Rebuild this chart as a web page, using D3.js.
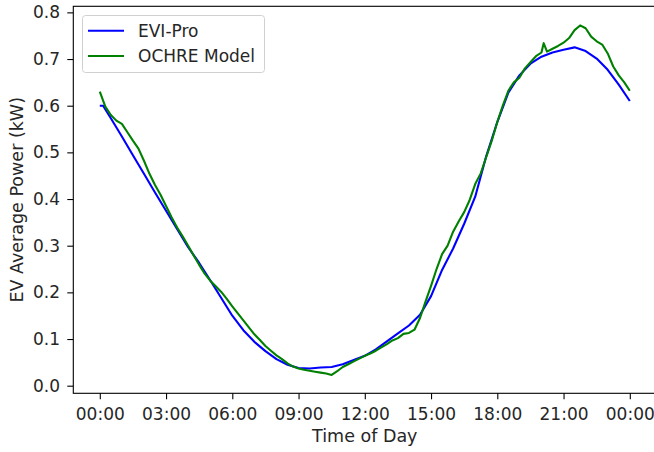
<!DOCTYPE html>
<html lang="en">
<head>
<meta charset="utf-8">
<title>EV Average Power</title>
<script src="https://d3js.org/d3.v7.min.js"></script>
<style>
  body { margin: 0; background: #fff; }
  svg text { font-family: "DejaVu Sans", sans-serif; fill: #262626; }
</style>
</head>
<body>
<div id="chart"></div>
<script>
// hours of day and average power (kW)
var eviHours = [0, 0.15, 0.5, 1, 1.5, 2, 2.5, 3, 3.5, 4, 4.5, 5, 5.5, 6, 6.5, 7, 7.5, 8, 8.5, 9, 9.5,
  10, 10.5, 11, 11.5, 12, 12.5, 13, 13.5, 14, 14.5, 15, 15.5, 16, 16.5, 17, 17.5, 18, 18.5, 19, 19.5,
  20, 20.5, 21, 21.5, 22, 22.5, 23, 23.5, 24];
var eviPower = [0.600, 0.600, 0.573, 0.534, 0.494, 0.454, 0.414, 0.375, 0.336, 0.297, 0.263, 0.226, 0.188,
  0.150, 0.119, 0.094, 0.074, 0.057, 0.045, 0.038, 0.037, 0.039, 0.040, 0.046, 0.055, 0.064, 0.078,
  0.095, 0.112, 0.129, 0.152, 0.192, 0.248, 0.294, 0.347, 0.405, 0.492, 0.565, 0.628, 0.665, 0.690,
  0.705, 0.714, 0.720, 0.725, 0.717, 0.701, 0.677, 0.645, 0.610];

var ochreHours = [0, 0.25, 0.5, 0.75, 1, 1.25, 1.5, 1.75, 2, 2.25, 2.5, 2.75, 3, 3.25, 3.5, 3.75,
  4, 4.25, 4.5, 4.75, 5, 5.25, 5.5, 5.75, 6, 6.25, 6.5, 6.75, 7, 7.25, 7.5, 7.75,
  8, 8.25, 8.5, 8.75, 9, 9.25, 9.5, 9.75, 10, 10.25, 10.5, 10.75, 11, 11.25, 11.5, 11.75,
  12, 12.25, 12.5, 12.75, 13, 13.25, 13.5, 13.75, 14, 14.25, 14.5, 14.75, 15, 15.25, 15.5, 15.75,
  16, 16.25, 16.5, 16.75, 17, 17.25, 17.5, 17.75, 18, 18.25, 18.5, 18.75, 19, 19.25, 19.5, 19.75,
  20, 20.1, 20.25, 20.5, 20.75, 21, 21.25, 21.5, 21.75, 22, 22.25, 22.5, 22.75, 23, 23.25, 23.5, 23.75, 24];
var ochrePower = [0.630, 0.598, 0.580, 0.568, 0.561, 0.543, 0.525, 0.508, 0.482, 0.454, 0.430, 0.409,
  0.385, 0.361, 0.339, 0.320, 0.300, 0.279, 0.259, 0.240, 0.225, 0.213, 0.201, 0.186,
  0.170, 0.155, 0.140, 0.125, 0.110, 0.098, 0.085, 0.075, 0.065, 0.057, 0.048, 0.041,
  0.037, 0.034, 0.032, 0.030, 0.028, 0.026, 0.023, 0.031, 0.040, 0.046, 0.052, 0.058,
  0.064, 0.069, 0.075, 0.082, 0.089, 0.097, 0.102, 0.111, 0.113, 0.120, 0.145, 0.180,
  0.214, 0.250, 0.282, 0.300, 0.330, 0.352, 0.372, 0.398, 0.432, 0.455, 0.490, 0.525,
  0.565, 0.600, 0.632, 0.650, 0.660, 0.680, 0.693, 0.706, 0.714, 0.734, 0.716, 0.722,
  0.728, 0.735, 0.745, 0.762, 0.772, 0.766, 0.748, 0.738, 0.731, 0.712, 0.684, 0.665, 0.650, 0.632];

var seriesNames = ["EVI-Pro", "OCHRE Model"];
var seriesColors = ["#0000ff", "#008000"];

var xTicks = [0, 3, 6, 9, 12, 15, 18, 21, 24];
var xTickLabels = ["00:00", "03:00", "06:00", "09:00", "12:00", "15:00", "18:00", "21:00", "00:00"];
var yTicks = [0, 0.1, 0.2, 0.3, 0.4, 0.5, 0.6, 0.7, 0.8];

var W = 654, H = 452;
var plot = {left: 73.3, right: 656.3, top: 6.3, bottom: 393.3};

var svg = d3.select("#chart").append("svg")
    .attr("width", W)
    .attr("height", H);

var x = d3.scaleLinear().domain([-1.2, 25.2]).range([plot.left, plot.right]);
var y = d3.scaleLinear().domain([-0.0163, 0.813]).range([plot.bottom, plot.top]);

// x axis
var xAxis = svg.append("g")
    .attr("transform", "translate(0," + plot.bottom + ")")
    .call(d3.axisBottom(x).tickValues(xTicks).tickSize(6).tickPadding(9)
      .tickFormat(function(d, i) { return xTickLabels[i]; }));
xAxis.select(".domain").remove();

// y axis
var yAxis = svg.append("g")
    .attr("transform", "translate(" + plot.left + ",0)")
    .call(d3.axisLeft(y).tickValues(yTicks).tickSize(6).tickPadding(7.3)
      .tickFormat(d3.format(".1f")));
yAxis.select(".domain").remove();

svg.selectAll(".tick line").attr("stroke", "#000").attr("stroke-width", 1.1);
svg.selectAll(".tick text").style("font-size", "17px").attr("fill", "#262626");

// lines
var line = d3.line()
    .x(function(d) { return x(d[0]); })
    .y(function(d) { return y(d[1]); });

var eviData = eviHours.map(function(h, i) { return [h, eviPower[i]]; });
var ochreData = ochreHours.map(function(h, i) { return [h, ochrePower[i]]; });

[eviData, ochreData].forEach(function(data, i) {
  svg.append("path")
      .datum(data)
      .attr("fill", "none")
      .attr("stroke", seriesColors[i])
      .attr("stroke-width", 2.1)
      .attr("stroke-linejoin", "round")
      .attr("d", line);
});

// frame (right spine falls just outside the picture)
svg.append("rect")
    .attr("x", plot.left).attr("y", plot.top)
    .attr("width", plot.right - plot.left).attr("height", plot.bottom - plot.top)
    .attr("fill", "none")
    .attr("stroke", "#000")
    .attr("stroke-width", 1.1);

// axis labels
svg.append("text")
    .attr("x", x(12))
    .attr("y", 442)
    .attr("text-anchor", "middle")
    .style("font-size", "17.5px")
    .text("Time of Day");

svg.append("text")
    .attr("transform", "translate(23," + (plot.top + plot.bottom) / 2 + ") rotate(-90)")
    .attr("text-anchor", "middle")
    .style("font-size", "17.5px")
    .text("EV Average Power (kW)");

// legend
var legend = svg.append("g");
legend.append("rect")
    .attr("x", 82.5).attr("y", 15.5)
    .attr("width", 182).attr("height", 57)
    .attr("rx", 3)
    .attr("fill", "#fff").attr("fill-opacity", 0.8)
    .attr("stroke", "#d0d0d0");

seriesNames.forEach(function(name, i) {
  var ly = 30.7 + i * 25.3;
  legend.append("line")
      .attr("x1", 88).attr("x2", 124)
      .attr("y1", ly).attr("y2", ly)
      .attr("stroke", seriesColors[i])
      .attr("stroke-width", 2.1);
  legend.append("text")
      .attr("x", 138).attr("y", ly)
      .attr("dy", "0.35em")
      .style("font-size", "17px")
      .text(name);
});
</script>
</body>
</html>
